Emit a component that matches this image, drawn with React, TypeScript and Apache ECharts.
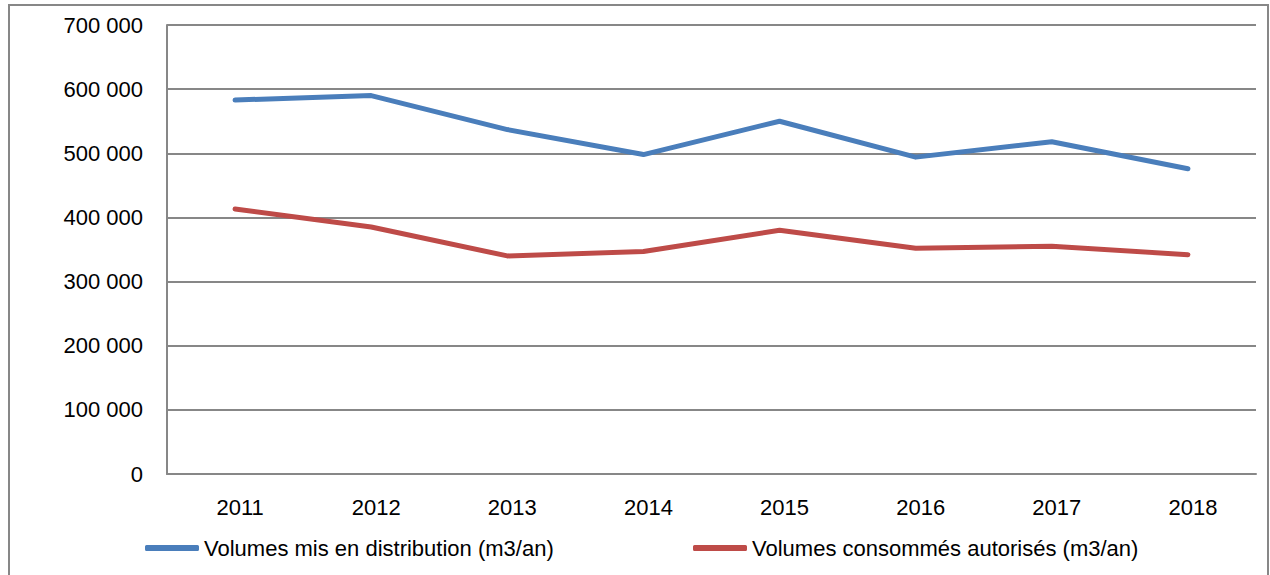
import React, { useEffect, useRef } from "react";
import * as echarts from "echarts";

const years = ["2011", "2012", "2013", "2014", "2015", "2016", "2017", "2018"];
const distribues = [583000, 590000, 537000, 498000, 550000, 494000, 518000, 476000];
const consommes = [413000, 385000, 340000, 347000, 380000, 352000, 355000, 342000];
const seriesNames = ["Volumes mis en distribution (m3/an)", "Volumes consommés autorisés (m3/an)"];

const FONT = "'Liberation Sans', Arial, sans-serif";

export default function App() {
  const ref = useRef<HTMLDivElement>(null);
  useEffect(() => {
    if (!ref.current) return;
    const chart = echarts.init(ref.current, undefined, { renderer: "svg" });
    const fmt = (v: number) => (v === 0 ? "0" : `${Math.round(v / 1000)} 000`);
    chart.setOption({
      animation: false,
      backgroundColor: "#ffffff",
      graphic: [
        {
          type: "rect",
          shape: { x: 9, y: 5, width: 1259, height: 600 },
          style: { fill: "none", stroke: "#878787", lineWidth: 2 },
          silent: true,
        },
      ],
      grid: { left: 167, right: 14, top: 25, bottom: 101, containLabel: false },
      xAxis: {
        type: "category",
        data: years,
        boundaryGap: true,
        axisLine: { show: true, lineStyle: { color: "#878787", width: 2 } },
        axisTick: { show: false },
        axisLabel: { color: "#000", fontFamily: FONT, fontSize: 22, margin: 22, padding: [0, 0, 0, 10] },
        splitLine: { show: false },
      },
      yAxis: {
        type: "value",
        min: 0,
        max: 700000,
        interval: 100000,
        axisLine: { show: true, lineStyle: { color: "#878787", width: 2 } },
        axisTick: { show: false },
        axisLabel: { color: "#000", fontFamily: FONT, fontSize: 22, margin: 24, formatter: fmt },
        splitLine: { show: true, lineStyle: { color: "#878787", width: 2 } },
      },
      legend: [
        {
          data: [seriesNames[0]],
          left: 145,
          top: 537,
          padding: 0,
          icon: "roundRect",
          itemWidth: 54,
          itemHeight: 6,
          textStyle: { color: "#000", fontFamily: FONT, fontSize: 22 },
          selectedMode: false,
        },
        {
          data: [seriesNames[1]],
          left: 693,
          top: 537,
          padding: 0,
          icon: "roundRect",
          itemWidth: 54,
          itemHeight: 6,
          textStyle: { color: "#000", fontFamily: FONT, fontSize: 22 },
          selectedMode: false,
        },
      ],
      series: [
        {
          name: seriesNames[0],
          type: "line",
          data: distribues,
          symbol: "none",
          color: "#4A7EBB",
          lineStyle: { width: 5, color: "#4A7EBB", cap: "round", join: "round" },
        },
        {
          name: seriesNames[1],
          type: "line",
          data: consommes,
          symbol: "none",
          color: "#BE4B48",
          lineStyle: { width: 5, color: "#BE4B48", cap: "round", join: "round" },
        },
      ],
    });
    return () => chart.dispose();
  }, []);
  return (
    <div
      ref={ref}
      style={{ position: "fixed", left: 0, top: 0, width: 1270, height: 575 }}
    />
  );
}
